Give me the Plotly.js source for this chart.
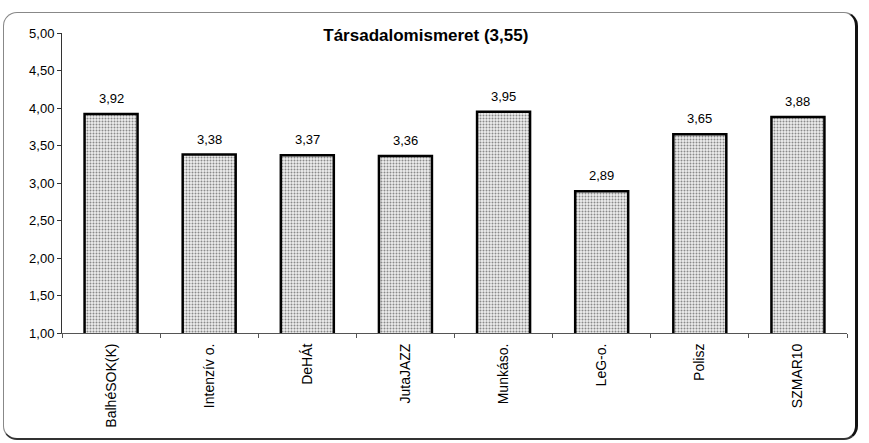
<!DOCTYPE html>
<html><head><meta charset="utf-8">
<script src="https://cdn.plot.ly/plotly-3.0.1.min.js"></script>
<style>
html,body{margin:0;padding:0;background:#fff;}
#wrap{position:relative;width:869px;height:443px;}
#frame{position:absolute;left:3px;top:12px;width:855px;height:428px;border:1px solid #888;border-right:3px solid #111;border-bottom:2px solid #333;border-radius:14px;box-sizing:border-box;pointer-events:none;}
#chart{position:absolute;left:0;top:0;width:869px;height:443px;}
</style></head>
<body><div id="wrap"><div id="chart"></div><div id="frame"></div></div>
<script>
const categories = ["BalhéSOK(K)", "Intenzív o.", "DeHÁt", "JutaJAZZ", "Munkáso.", "LeG-o.", "Polisz", "SZMAR10"];
const values = [3.92, 3.38, 3.37, 3.36, 3.95, 2.89, 3.65, 3.88];
const valueLabels = ["3,92", "3,38", "3,37", "3,36", "3,95", "2,89", "3,65", "3,88"];
const yTicks = [1, 1.5, 2, 2.5, 3, 3.5, 4, 4.5, 5];
const titleText = "Társadalomismeret (3,55)";

const trace = {
  type: 'bar', x: categories, y: values,
  marker: {color: '#d8d8d8', line: {color: '#000', width: 2.5},
    pattern: {shape: '.', fgcolor: '#8a8a8a', bgcolor: '#eeeeee', size: 3, solidity: 0.35}},
  hoverinfo: 'none'
};
const annotations = categories.map((c, i) => ({
  x: c, y: values[i], xref: 'x', yref: 'y', text: valueLabels[i], showarrow: false,
  yanchor: 'bottom', yshift: 6, font: {family: 'Liberation Sans, Arial', size: 13, color: '#000'}
}));
const layout = {
  width: 869, height: 443,
  margin: {l: 62, r: 22, t: 33, b: 110},
  paper_bgcolor: 'rgba(0,0,0,0)', plot_bgcolor: 'rgba(0,0,0,0)',
  separators: ',.',
  showlegend: false,
  bargap: 0.46,
  annotations: annotations,
  font: {family: 'Liberation Sans, Arial', size: 12, color: '#000'},
  title: {text: '<b>' + titleText + '</b>', x: 0.49, xanchor: 'center', y: 0.92, yanchor: 'middle',
    font: {family: 'Liberation Sans, Arial', size: 17, color: '#000'}},
  xaxis: {type: 'category', tickangle: -90, showline: true, linecolor: '#555', linewidth: 1,
    ticks: 'outside', tickson: 'boundaries', ticklen: 4, tickcolor: '#555',
    showgrid: false, zeroline: false, tickfont: {size: 14}, ticklabelstandoff: 4},
  yaxis: {range: [1, 5], tickvals: yTicks, tickformat: '.2f', showline: true, linecolor: '#333', linewidth: 1,
    ticks: 'outside', ticklen: 4, tickcolor: '#333', showgrid: false, zeroline: false, tickfont: {size: 13}}
};
Plotly.newPlot('chart', [trace], layout, {staticPlot: true});
</script></body></html>
